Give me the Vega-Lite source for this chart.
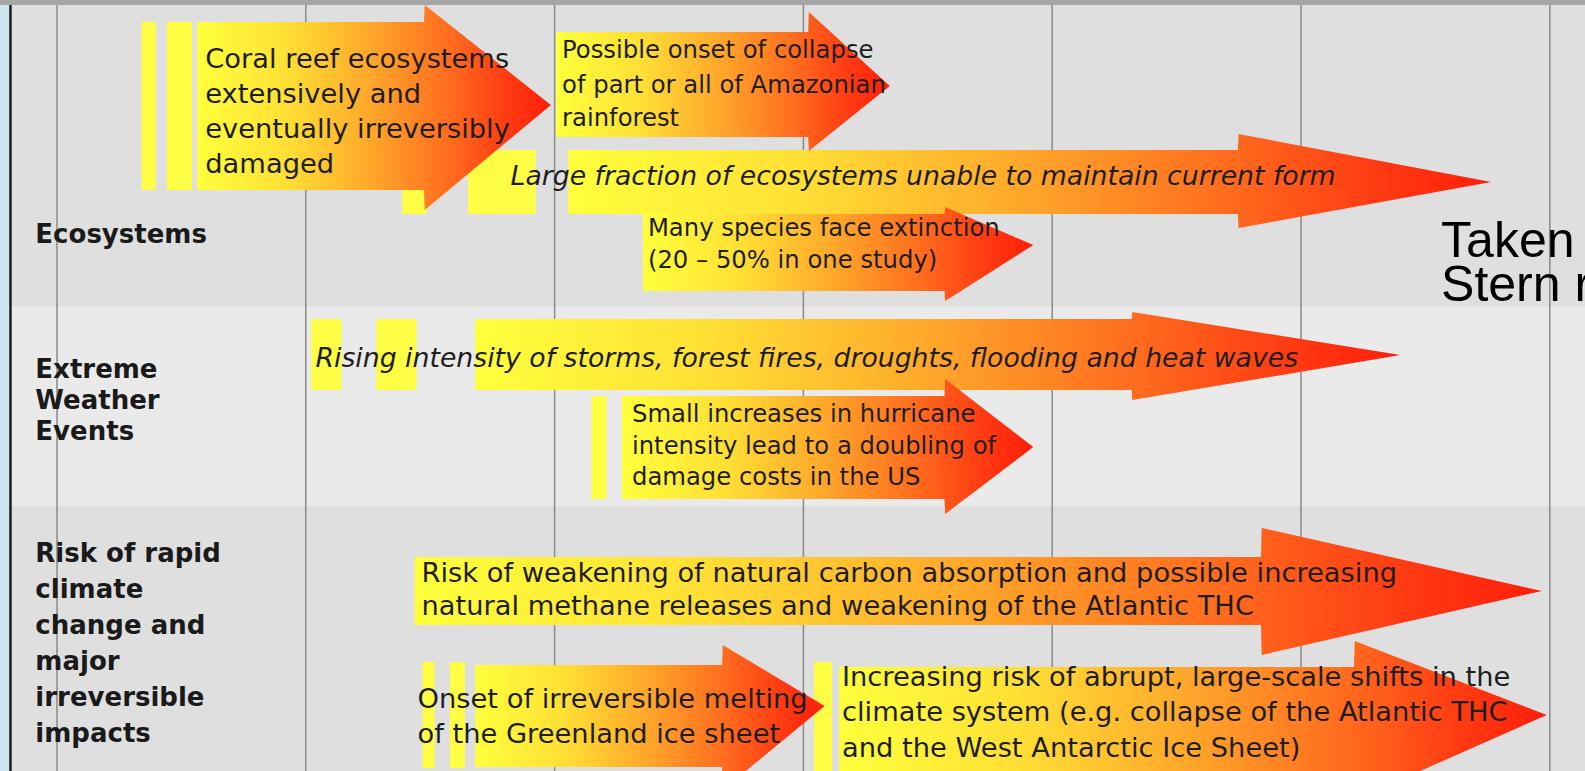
{
  "$schema": "https://vega.github.io/schema/vega-lite/v6.json",
  "width": 1585,
  "height": 771,
  "autosize": {"type": "none"},
  "padding": 0,
  "background": "#dfdfdf",
  "usermeta": {"embedOptions": {"actions": false}},
  "config": {"view": {"stroke": null}},
  "datasets": {
    "bg": [
      {"x": -0.3, "x2": 6.3, "y": 0, "y2": 5, "band": "top"},
      {"x": -0.3, "x2": 6.3, "y": 5, "y2": 306, "band": "row1"},
      {"x": -0.3, "x2": 6.3, "y": 306, "y2": 506, "band": "row2"},
      {"x": -0.3, "x2": 6.3, "y": 506, "y2": 771, "band": "row3"},
      {"x": -0.3, "x2": -0.193, "y": 5, "y2": 771, "band": "left"}
    ],
    "grid": [
      {"x": 0, "y": 5, "y2": 771},
      {"x": 1, "y": 5, "y2": 771},
      {"x": 2, "y": 5, "y2": 771},
      {"x": 3, "y": 5, "y2": 771},
      {"x": 4, "y": 5, "y2": 771},
      {"x": 5, "y": 5, "y2": 771},
      {"x": 6, "y": 5, "y2": 771}
    ],
    "border": [{"x": -0.187, "y": 5, "y2": 771}],
    "stripes": [
      {"x": 0.340, "x2": 0.397, "y": 22, "y2": 190},
      {"x": 0.441, "x2": 0.543, "y": 22, "y2": 190},
      {"x": 1.388, "x2": 1.486, "y": 150, "y2": 214},
      {"x": 1.652, "x2": 1.924, "y": 150, "y2": 214},
      {"x": 1.022, "x2": 1.144, "y": 319, "y2": 390},
      {"x": 1.283, "x2": 1.445, "y": 319, "y2": 390},
      {"x": 2.148, "x2": 2.209, "y": 396, "y2": 499},
      {"x": 1.469, "x2": 1.518, "y": 662, "y2": 768},
      {"x": 1.579, "x2": 1.640, "y": 662, "y2": 768},
      {"x": 3.042, "x2": 3.115, "y": 662, "y2": 771}
    ],
    "arrows": [
      {"id": "A3", "x": 2.055, "y": 150, "y2": 214},
      {"id": "A3", "x": 4.746, "y": 150, "y2": 214},
      {"id": "A3", "x": 4.749, "y": 134, "y2": 228},
      {"id": "A3", "x": 5.764, "y": 182, "y2": 182},
      {"id": "A4", "x": 2.355, "y": 214, "y2": 291},
      {"id": "A4", "x": 3.567, "y": 214, "y2": 291},
      {"id": "A4", "x": 3.570, "y": 207, "y2": 301},
      {"id": "A4", "x": 3.924, "y": 245, "y2": 245},
      {"id": "A1", "x": 0.563, "y": 22, "y2": 190},
      {"id": "A1", "x": 1.475, "y": 22, "y2": 190},
      {"id": "A1", "x": 1.478, "y": 5, "y2": 210},
      {"id": "A1", "x": 1.985, "y": 105, "y2": 105},
      {"id": "A2", "x": 2.006, "y": 32, "y2": 137},
      {"id": "A2", "x": 3.019, "y": 32, "y2": 137},
      {"id": "A2", "x": 3.022, "y": 12, "y2": 151},
      {"id": "A2", "x": 3.347, "y": 86, "y2": 86},
      {"id": "A5", "x": 1.681, "y": 319, "y2": 390},
      {"id": "A5", "x": 4.319, "y": 319, "y2": 390},
      {"id": "A5", "x": 4.322, "y": 312, "y2": 400},
      {"id": "A5", "x": 5.399, "y": 355, "y2": 355},
      {"id": "A6", "x": 2.270, "y": 396, "y2": 499},
      {"id": "A6", "x": 3.567, "y": 396, "y2": 499},
      {"id": "A6", "x": 3.570, "y": 379, "y2": 514},
      {"id": "A6", "x": 3.924, "y": 447, "y2": 447},
      {"id": "A7", "x": 1.437, "y": 557, "y2": 625},
      {"id": "A7", "x": 4.839, "y": 557, "y2": 625},
      {"id": "A7", "x": 4.842, "y": 528, "y2": 655},
      {"id": "A7", "x": 5.968, "y": 591, "y2": 591},
      {"id": "A9", "x": 3.143, "y": 667, "y2": 775},
      {"id": "A9", "x": 5.213, "y": 667, "y2": 775},
      {"id": "A9", "x": 5.216, "y": 641, "y2": 800},
      {"id": "A9", "x": 5.988, "y": 715, "y2": 715},
      {"id": "A8", "x": 1.681, "y": 665, "y2": 767},
      {"id": "A8", "x": 2.673, "y": 665, "y2": 767},
      {"id": "A8", "x": 2.676, "y": 645, "y2": 790},
      {"id": "A8", "x": 3.085, "y": 706, "y2": 706}
    ],
    "labels": [
      {"x": -0.087, "y": 234.5, "text": "Ecosystems"},
      {"x": -0.087, "y": 370, "text": "Extreme"},
      {"x": -0.087, "y": 401, "text": "Weather"},
      {"x": -0.087, "y": 432, "text": "Events"},
      {"x": -0.087, "y": 554, "text": "Risk of rapid"},
      {"x": -0.087, "y": 590, "text": "climate"},
      {"x": -0.087, "y": 626, "text": "change and"},
      {"x": -0.087, "y": 662, "text": "major"},
      {"x": -0.087, "y": 698, "text": "irreversible"},
      {"x": -0.087, "y": 734, "text": "impacts"}
    ],
    "texts": [
      {"g": "big", "x": 0.596, "y": 60, "text": "Coral reef ecosystems"},
      {"g": "big", "x": 0.596, "y": 95, "text": "extensively and"},
      {"g": "big", "x": 0.596, "y": 130, "text": "eventually irreversibly"},
      {"g": "big", "x": 0.596, "y": 165, "text": "damaged"},
      {"g": "small", "x": 2.030, "y": 51, "text": "Possible onset of collapse"},
      {"g": "small", "x": 2.030, "y": 86, "text": "of part or all of Amazonian"},
      {"g": "small", "x": 2.030, "y": 119, "text": "rainforest"},
      {"g": "italic", "x": 1.823, "y": 177, "text": "Large fraction of ecosystems unable to maintain current form"},
      {"g": "small", "x": 2.375, "y": 229, "text": "Many species face extinction"},
      {"g": "small", "x": 2.375, "y": 261, "text": "(20 – 50% in one study)"},
      {"g": "italic", "x": 1.039, "y": 359, "text": "Rising intensity of storms, forest fires, droughts, flooding and heat waves"},
      {"g": "small", "x": 2.311, "y": 415, "text": "Small increases in hurricane"},
      {"g": "small", "x": 2.311, "y": 447, "text": "intensity lead to a doubling of"},
      {"g": "small", "x": 2.311, "y": 478, "text": "damage costs in the US"},
      {"g": "big", "x": 1.465, "y": 574, "text": "Risk of weakening of natural carbon absorption and possible increasing"},
      {"g": "big", "x": 1.465, "y": 607, "text": "natural methane releases and weakening of the Atlantic THC"},
      {"g": "big", "x": 1.449, "y": 700, "text": "Onset of irreversible melting"},
      {"g": "big", "x": 1.449, "y": 735, "text": "of the Greenland ice sheet"},
      {"g": "big", "x": 3.155, "y": 678, "text": "Increasing risk of abrupt, large-scale shifts in the"},
      {"g": "big", "x": 3.155, "y": 713, "text": "climate system (e.g. collapse of the Atlantic THC"},
      {"g": "big", "x": 3.155, "y": 749, "text": "and the West Antarctic Ice Sheet)"}
    ],
    "note": [
      {"x": 5.563, "y": 242, "text": "Taken from"},
      {"x": 5.563, "y": 286, "text": "Stern review"}
    ]
  },
  "layer": [
    {
      "data": {"name": "bg"},
      "mark": {"type": "rect"},
      "encoding": {
        "x": {"field": "x", "type": "quantitative", "scale": {"domain": [-0.2291, 6.1415], "nice": false, "zero": false}, "axis": null},
        "x2": {"field": "x2"},
        "y": {"field": "y", "type": "quantitative", "scale": {"domain": [0, 771], "reverse": true, "nice": false, "zero": false}, "axis": null},
        "y2": {"field": "y2"},
        "color": {"field": "band", "type": "nominal", "legend": null,
          "scale": {"domain": ["top", "row1", "row2", "row3", "left"], "range": ["#a6a6a6", "#dfdfdf", "#eaeaea", "#dfdfdf", "#cde7f1"]}}
      }
    },
    {
      "data": {"name": "grid"},
      "mark": {"type": "rule", "color": "#8a8a8a", "strokeWidth": 1.5},
      "encoding": {
        "x": {"field": "x", "type": "quantitative", "scale": {"domain": [-0.2291, 6.1415], "nice": false, "zero": false}, "axis": null},
        "y": {"field": "y", "type": "quantitative", "scale": {"domain": [0, 771], "reverse": true, "nice": false, "zero": false}, "axis": null},
        "y2": {"field": "y2"}
      }
    },
    {
      "data": {"name": "border"},
      "mark": {"type": "rule", "color": "#1c1c1c", "strokeWidth": 2.5},
      "encoding": {
        "x": {"field": "x", "type": "quantitative", "scale": {"domain": [-0.2291, 6.1415], "nice": false, "zero": false}, "axis": null},
        "y": {"field": "y", "type": "quantitative", "scale": {"domain": [0, 771], "reverse": true, "nice": false, "zero": false}, "axis": null},
        "y2": {"field": "y2"}
      }
    },
    {
      "data": {"name": "stripes"},
      "mark": {"type": "rect", "color": "#ffff3c", "opacity": 0.95},
      "encoding": {
        "x": {"field": "x", "type": "quantitative", "scale": {"domain": [-0.2291, 6.1415], "nice": false, "zero": false}, "axis": null},
        "x2": {"field": "x2"},
        "y": {"field": "y", "type": "quantitative", "scale": {"domain": [0, 771], "reverse": true, "nice": false, "zero": false}, "axis": null},
        "y2": {"field": "y2"}
      }
    },
    {
      "data": {"name": "arrows"},
      "mark": {
        "type": "area",
        "orient": "vertical",
        "interpolate": "linear",
        "opacity": 1,
        "fill": {
          "gradient": "linear",
          "x1": 0, "y1": 0, "x2": 1, "y2": 0,
          "stops": [
            {"offset": 0, "color": "#ffff3c"},
            {"offset": 0.25, "color": "#ffe035"},
            {"offset": 0.5, "color": "#ffa52a"},
            {"offset": 0.72, "color": "#ff6a1e"},
            {"offset": 0.88, "color": "#ff3a12"},
            {"offset": 1, "color": "#ff1e0a"}
          ]
        }
      },
      "encoding": {
        "x": {"field": "x", "type": "quantitative", "scale": {"domain": [-0.2291, 6.1415], "nice": false, "zero": false}, "axis": null},
        "y": {"field": "y", "type": "quantitative", "stack": null, "scale": {"domain": [0, 771], "reverse": true, "nice": false, "zero": false}, "axis": null},
        "y2": {"field": "y2"},
        "detail": {"field": "id", "type": "nominal"}
      }
    },
    {
      "data": {"name": "labels"},
      "mark": {"type": "text", "font": "DejaVu Sans", "fontWeight": "bold", "fontSize": 26, "align": "left", "baseline": "middle", "color": "#1a1a1a"},
      "encoding": {
        "x": {"field": "x", "type": "quantitative", "scale": {"domain": [-0.2291, 6.1415], "nice": false, "zero": false}, "axis": null},
        "y": {"field": "y", "type": "quantitative", "scale": {"domain": [0, 771], "reverse": true, "nice": false, "zero": false}, "axis": null},
        "text": {"field": "text"}
      }
    },
    {
      "data": {"name": "texts"},
      "transform": [{"filter": "datum.g === 'big'"}],
      "mark": {"type": "text", "font": "DejaVu Sans", "fontSize": 27.3, "align": "left", "baseline": "middle", "color": "#1e1e1e"},
      "encoding": {
        "x": {"field": "x", "type": "quantitative", "scale": {"domain": [-0.2291, 6.1415], "nice": false, "zero": false}, "axis": null},
        "y": {"field": "y", "type": "quantitative", "scale": {"domain": [0, 771], "reverse": true, "nice": false, "zero": false}, "axis": null},
        "text": {"field": "text"}
      }
    },
    {
      "data": {"name": "texts"},
      "transform": [{"filter": "datum.g === 'small'"}],
      "mark": {"type": "text", "font": "DejaVu Sans", "fontSize": 24.3, "align": "left", "baseline": "middle", "color": "#1e1e1e"},
      "encoding": {
        "x": {"field": "x", "type": "quantitative", "scale": {"domain": [-0.2291, 6.1415], "nice": false, "zero": false}, "axis": null},
        "y": {"field": "y", "type": "quantitative", "scale": {"domain": [0, 771], "reverse": true, "nice": false, "zero": false}, "axis": null},
        "text": {"field": "text"}
      }
    },
    {
      "data": {"name": "texts"},
      "transform": [{"filter": "datum.g === 'italic'"}],
      "mark": {"type": "text", "font": "DejaVu Sans", "fontStyle": "italic", "fontSize": 26.7, "align": "left", "baseline": "middle", "color": "#1e1e1e"},
      "encoding": {
        "x": {"field": "x", "type": "quantitative", "scale": {"domain": [-0.2291, 6.1415], "nice": false, "zero": false}, "axis": null},
        "y": {"field": "y", "type": "quantitative", "scale": {"domain": [0, 771], "reverse": true, "nice": false, "zero": false}, "axis": null},
        "text": {"field": "text"}
      }
    },
    {
      "data": {"name": "note"},
      "mark": {"type": "text", "font": "Liberation Sans", "fontSize": 50, "align": "left", "baseline": "middle", "color": "#000000"},
      "encoding": {
        "x": {"field": "x", "type": "quantitative", "scale": {"domain": [-0.2291, 6.1415], "nice": false, "zero": false}, "axis": null},
        "y": {"field": "y", "type": "quantitative", "scale": {"domain": [0, 771], "reverse": true, "nice": false, "zero": false}, "axis": null},
        "text": {"field": "text"}
      }
    }
  ]
}
